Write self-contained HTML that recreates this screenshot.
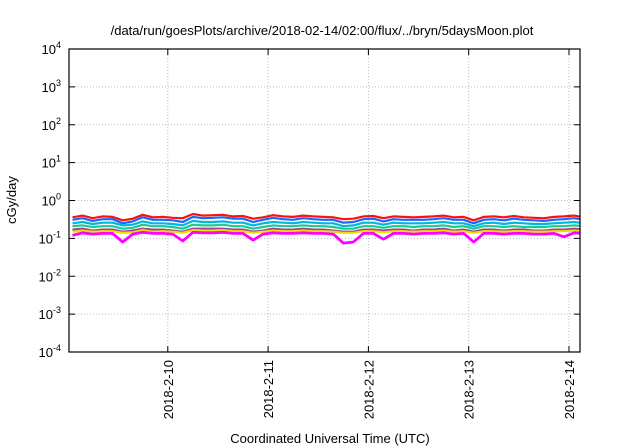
<!DOCTYPE html>
<html><head><meta charset="utf-8"><style>
body{margin:0;background:#fff}
svg{display:block;font-family:"Liberation Sans",sans-serif}
</style></head><body>
<svg id="c" width="640" height="448" viewBox="0 0 640 448">
<defs><clipPath id="pc"><rect x="69" y="49" width="511" height="303"/></clipPath></defs>
<text x="322" y="35" text-anchor="middle" font-size="13">/data/run/goesPlots/archive/2018-02-14/02:00/flux/../bryn/5daysMoon.plot</text>
<g id="grid"></g><g id="series" clip-path="url(#pc)"></g><g id="axes"></g>
<text transform="translate(16,200) rotate(-90)" text-anchor="middle" font-size="13">cGy/day</text>
<text x="330" y="443" text-anchor="middle" font-size="13">Coordinated Universal Time (UTC)</text>
</svg>
<script>
const yTickExps=[-4,-3,-2,-1,0,1,2,3,4];
const xTickLabels=["2018-2-10","2018-2-11","2018-2-12","2018-2-13","2018-2-14"];
const xTickDays=[1,2,3,4,5];
const stepHours=2.4;
const seriesNames=["red","blue","cyan","green","purple","yellow","magenta"];
const seriesColors=["#ff1010","#1a66ff","#00b8d8","#20c890","#a04090","#e8e000","#ff00ff"];
const red=[0.36,0.40,0.34,0.38,0.37,0.30,0.33,0.42,0.36,0.37,0.35,0.34,0.44,0.40,0.41,0.42,0.38,0.39,0.33,0.36,0.41,0.38,0.37,0.40,0.38,0.37,0.36,0.32,0.33,0.38,0.39,0.34,0.38,0.37,0.36,0.37,0.38,0.40,0.36,0.37,0.30,0.37,0.38,0.36,0.39,0.36,0.35,0.34,0.37,0.38,0.40,0.36];
const blue=[0.31,0.34,0.29,0.32,0.32,0.25,0.28,0.36,0.31,0.31,0.30,0.27,0.37,0.34,0.35,0.36,0.33,0.33,0.27,0.31,0.35,0.32,0.31,0.34,0.32,0.31,0.31,0.26,0.27,0.32,0.33,0.28,0.32,0.31,0.31,0.31,0.32,0.34,0.31,0.31,0.25,0.31,0.32,0.30,0.33,0.31,0.30,0.29,0.31,0.32,0.34,0.31];
const cyan=[0.25,0.27,0.24,0.26,0.26,0.22,0.23,0.28,0.25,0.25,0.24,0.22,0.29,0.27,0.27,0.28,0.26,0.26,0.22,0.25,0.27,0.26,0.25,0.27,0.26,0.25,0.25,0.21,0.22,0.26,0.26,0.23,0.26,0.25,0.25,0.25,0.26,0.27,0.25,0.25,0.21,0.25,0.26,0.24,0.26,0.25,0.24,0.24,0.25,0.26,0.27,0.25];
const green=[0.21,0.22,0.20,0.21,0.21,0.18,0.19,0.23,0.21,0.21,0.20,0.18,0.23,0.22,0.22,0.23,0.21,0.21,0.18,0.20,0.22,0.21,0.21,0.22,0.21,0.21,0.20,0.18,0.18,0.21,0.21,0.19,0.21,0.21,0.20,0.21,0.21,0.22,0.20,0.21,0.18,0.21,0.21,0.20,0.21,0.20,0.20,0.20,0.21,0.21,0.22,0.21];
const purple=[0.17,0.18,0.16,0.17,0.17,0.15,0.16,0.18,0.17,0.17,0.16,0.15,0.18,0.18,0.18,0.18,0.17,0.17,0.15,0.16,0.18,0.17,0.17,0.18,0.17,0.17,0.16,0.15,0.15,0.17,0.17,0.16,0.17,0.17,0.16,0.17,0.17,0.18,0.16,0.17,0.15,0.17,0.17,0.16,0.17,0.17,0.16,0.16,0.17,0.17,0.18,0.17];
const yellow=[0.15,0.16,0.15,0.155,0.155,0.14,0.145,0.165,0.15,0.155,0.15,0.14,0.165,0.16,0.16,0.165,0.155,0.155,0.14,0.15,0.16,0.155,0.155,0.16,0.155,0.155,0.15,0.14,0.14,0.155,0.155,0.145,0.155,0.155,0.15,0.155,0.155,0.16,0.15,0.155,0.14,0.155,0.155,0.15,0.155,0.155,0.15,0.15,0.155,0.155,0.16,0.155];
const magenta=[0.12,0.14,0.13,0.135,0.135,0.08,0.13,0.145,0.135,0.135,0.13,0.085,0.145,0.14,0.14,0.145,0.135,0.135,0.09,0.13,0.14,0.135,0.135,0.14,0.135,0.135,0.13,0.075,0.08,0.135,0.135,0.095,0.135,0.135,0.13,0.135,0.135,0.14,0.13,0.135,0.08,0.135,0.135,0.13,0.135,0.135,0.13,0.13,0.135,0.11,0.14,0.135];
const seriesData=[red,blue,cyan,green,purple,yellow,magenta];

const L=69,R=580,T=49,B=352,x0=67.5,pxDay=100.3;
const NS="http://www.w3.org/2000/svg";
function X(d){return x0+d*pxDay;}
function Y(v){return B-(Math.log10(v)+4)*(B-T)/8;}
function mk(tag,attrs,parent){const e=document.createElementNS(NS,tag);for(const k in attrs)e.setAttribute(k,attrs[k]);parent.appendChild(e);return e;}
const grid=document.getElementById('grid'),axes=document.getElementById('axes'),ser=document.getElementById('series');
yTickExps.forEach(p=>{
  const y=Y(Math.pow(10,p));
  if(p>-4&&p<4){const g=mk('line',{x1:L,x2:R,y1:y,y2:y,stroke:'#bbb','stroke-dasharray':'1,2'},grid);
  
  }
  mk('line',{x1:L,x2:L+6,y1:y,y2:y,stroke:'#000'},axes);
  mk('line',{x1:R-6,x2:R,y1:y,y2:y,stroke:'#000'},axes);
  const t=mk('text',{x:L-8,y:y+5,'text-anchor':'end','font-size':'13'},axes);
  
  
  t.innerHTML='10<tspan dy="-6" font-size="9">'+p+'</tspan>';
});
xTickDays.forEach((d,i)=>{
  const x=X(d);
  const g=mk('line',{x1:x,x2:x,y1:T,y2:B,stroke:'#bbb','stroke-dasharray':'1,2'},grid);
  
  
  mk('line',{x1:x,x2:x,y1:B,y2:B-6,stroke:'#000'},axes);
  mk('line',{x1:x,x2:x,y1:T,y2:T+6,stroke:'#000'},axes);
  const t=mk('text',{transform:`translate(${x+5},${B+8}) rotate(-90)`,'text-anchor':'end','font-size':'13'},axes);
  
  
  t.textContent=xTickLabels[i];
});
const fr=mk('rect',{x:L,y:T,width:R-L,height:B-T,fill:'none',stroke:'#000','stroke-width':1.2},axes);


seriesData.forEach((arr,si)=>{
  const pts=arr.map((v,i)=>X(0.05+i*stepHours/24).toFixed(1)+','+Y(v).toFixed(1)).join(' ');
  const p=mk('polyline',{points:pts,fill:'none',stroke:seriesColors[si],'stroke-width':si===6?2.8:2.2,'stroke-linejoin':'round'},ser);
  
  
});
</script>
</body></html>
